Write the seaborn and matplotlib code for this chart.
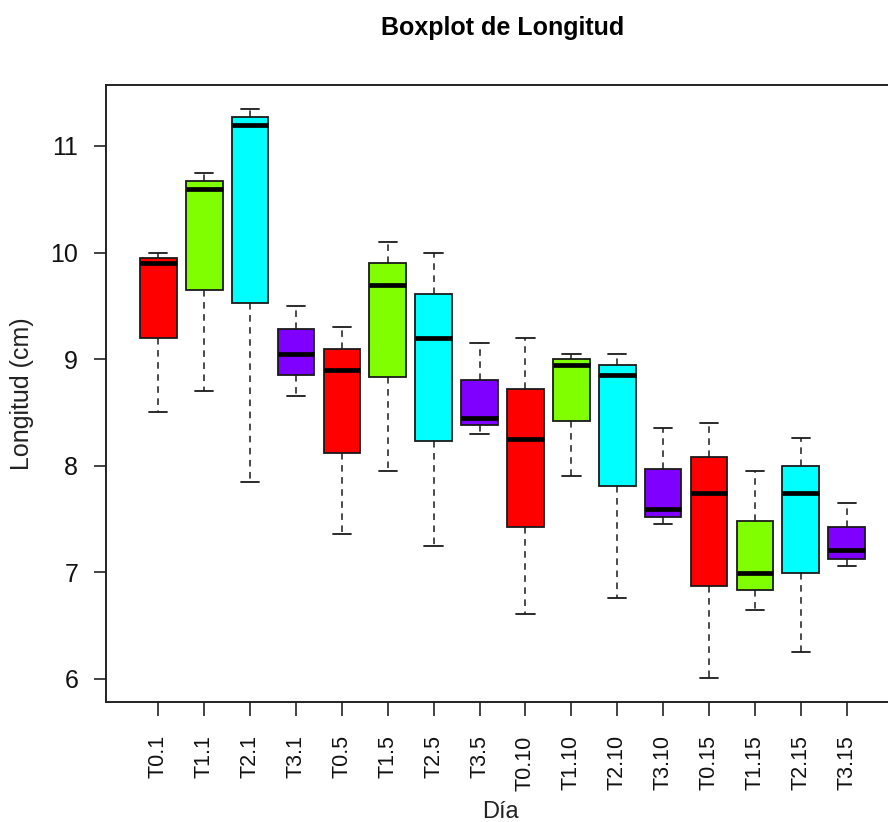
import numpy as np
import pandas as pd
import matplotlib
matplotlib.use("Agg")
import matplotlib.pyplot as plt
import seaborn as sns

# ---- data (five-number summaries) ----
categories = ["T0.1", "T1.1", "T2.1", "T3.1", "T0.5", "T1.5", "T2.5", "T3.5",
              "T0.10", "T1.10", "T2.10", "T3.10", "T0.15", "T1.15", "T2.15", "T3.15"]
whisk_low = [8.50, 8.70, 7.85, 8.65, 7.36, 7.95, 7.25, 8.30,
             6.61, 7.90, 6.76, 7.45, 6.005, 6.65, 6.25, 7.06]
q1 = [9.20, 9.65, 9.53, 8.855, 8.12, 8.83, 8.23, 8.38,
      7.43, 8.42, 7.81, 7.52, 6.875, 6.83, 6.99, 7.13]
median = [9.90, 10.60, 11.20, 9.05, 8.90, 9.70, 9.20, 8.45,
          8.255, 8.945, 8.855, 7.595, 7.745, 6.995, 7.745, 7.21]
q3 = [9.95, 10.67, 11.27, 9.28, 9.10, 9.905, 9.61, 8.80,
      8.72, 9.005, 8.95, 7.97, 8.08, 7.48, 8.00, 7.43]
whisk_high = [10.00, 10.75, 11.35, 9.50, 9.30, 10.10, 10.00, 9.155,
              9.20, 9.05, 9.05, 8.35, 8.40, 7.955, 8.26, 7.655]
group_colors = ["#FF0000", "#80FF00", "#00FFFF", "#8000FF"]
y_ticks = [6, 7, 8, 9, 10, 11]

# long table: the five summary values of each group
rows = []
for i, c in enumerate(categories):
    for v in (whisk_low[i], q1[i], median[i], q3[i], whisk_high[i]):
        rows.append({"Dia": c, "Longitud": v})
df = pd.DataFrame(rows)
palette = {c: group_colors[i % 4] for i, c in enumerate(categories)}

sns.set_style("ticks")
plt.rcParams["font.family"] = ["Liberation Sans", "DejaVu Sans"]

W, H = 888, 822
fig = plt.figure(figsize=(W / 100, H / 100), dpi=100)
ax = fig.add_axes([106 / W, 1 - 702 / H, (899 - 106) / W, (702 - 85) / H])

sns.boxplot(data=df, x="Dia", y="Longitud", hue="Dia", order=categories,
            hue_order=categories, palette=palette, saturation=1, dodge=False,
            width=0.8, whis=np.inf, showfliers=False, legend=False,
            linecolor="#1a1a1a", linewidth=1.3,
            medianprops=dict(color="black", linewidth=3.4, solid_capstyle="butt"),
            whiskerprops=dict(color="#1a1a1a", linewidth=1.1,
                              linestyle=(0, (4.3, 3.6))),
            capprops=dict(color="#1a1a1a", linewidth=1.3),
            ax=ax)

ax.set_xlim(-1.14, 16.14)
ax.set_ylim(5.784, 11.572)
ax.set_yticks(y_ticks)
ax.set_yticklabels([str(t) for t in y_ticks], fontsize=18, color="#111111")
ax.set_xticks(range(len(categories)))
ax.set_xticklabels(categories, rotation=90, fontsize=15.5, color="#111111")
ax.tick_params(axis="y", length=9, width=1.2, pad=11, color="#222222")
ax.tick_params(axis="x", length=10, width=1.2, pad=14, color="#222222")
ax.set_xlabel("")
ax.set_ylabel("")
for s in ax.spines.values():
    s.set_visible(True)
    s.set_linewidth(1.4)
    s.set_color("#222222")

fig.text(503 / W, 1 - 35 / H, "Boxplot de Longitud", ha="center",
         va="baseline", fontsize=18, fontweight="bold", color="black")
fig.text(500 / W, 1 - 818 / H, "Día", ha="center", va="baseline",
         fontsize=17, color="#222222")
fig.text(22 / W, 1 - 394 / H, "Longitud (cm)", ha="center", va="center",
         rotation=90, fontsize=18, color="#222222")

fig.savefig("out.png", dpi=100)
